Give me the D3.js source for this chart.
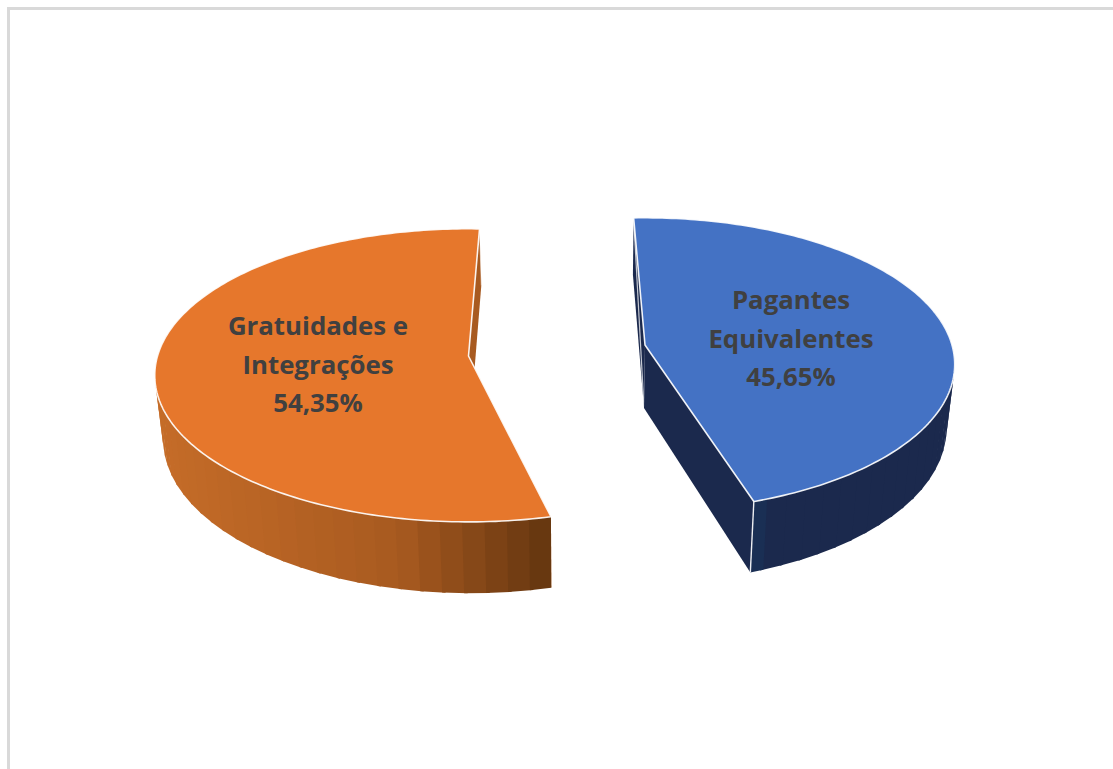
<!DOCTYPE html>
<html>
<head>
<meta charset="utf-8">
<script src="https://cdn.jsdelivr.net/npm/d3@7"></script>
<style>
  html, body { margin: 0; padding: 0; background: #fff; overflow: hidden; }
</style>
</head>
<body>
<div id="chart"></div>
<script>
const categories = ["Pagantes Equivalentes", "Gratuidades e Integrações"];
const shares = [45.65, 54.35];
const shareLabels = ["45,65%", "54,35%"];
const labelLines = [["Pagantes", "Equivalentes"], ["Gratuidades e", "Integrações"]];
const topColors = ["#4472c4", "#e6772c"];
const wallColors = [["#1a2f54", "#1b294d", "#1b294d"], ["#c56c28", "#a85a20", "#63350f"]];

const width = 1113, height = 769;

// per slice layout of the exploded pie: tip of the wedge, radius, rotation
const layout = [
  { tipX: 645, tipY: 345, rx: 307, turn: 0, baseShift: -1, baseScale: 0.977, labelX: 791, labelY: 309,
    wallDomain: [765, 772, 950] },
  { tipX: 468.5, tipY: 356, rx: 311, turn: 4.7, baseShift: 2, baseScale: 0.98, labelX: 318, labelY: 335,
    wallDomain: [165, 400, 551] },
];
const ry = 144;
const perspective = 0.132; // back of the disc shrinks, front grows
const depth = 63;
const baseGrow = 1.05;
const lineGap = 38.5;
const rad = (deg) => (deg * Math.PI) / 180;

const svg = d3
  .select("#chart")
  .append("svg")
  .attr("width", width)
  .attr("height", height)
  .style("display", "block");

svg
  .append("path")
  .attr("d", `M8.5,${height}V8.5H${width}`)
  .attr("fill", "none")
  .attr("stroke", "#d9d9d9")
  .attr("stroke-width", 3);

const pie = d3
  .pie()
  .sort(null)
  .startAngle(rad(-2.4))
  .endAngle(rad(-2.4) + 2 * Math.PI);
const arcs = pie(shares);

const line = d3.line();

// point on the top face, angle in radians clockwise from the back of the disc
function topPoint(s, a, r = 1) {
  const w = 1 + perspective * Math.cos(a);
  return [
    s.tipX + (r * s.rx * Math.sin(a)) / w,
    s.tipY - (r * ry * Math.cos(a)) / w,
  ];
}

// same point on the bottom face
function basePoint(s, a, r = 1) {
  const [x, y] = topPoint(s, a, r);
  return [
    s.tipX + s.baseShift + (x - s.tipX) * s.baseScale,
    s.tipY + depth + (y - s.tipY) * baseGrow,
  ];
}

arcs.forEach((d, i) => {
  const s = layout[i];
  const start = d.startAngle + rad(s.turn);
  const end = d.endAngle + rad(s.turn);
  const g = svg.append("g").attr("class", "slice").attr("data-name", categories[i]);
  const wallColor = d3
    .scaleLinear()
    .domain(s.wallDomain)
    .range(wallColors[i])
    .clamp(true);
  const tipTop = topPoint(s, 0, 0);
  const tipBase = basePoint(s, 0, 0);

  // cut wall at the start of the slice, mostly hidden
  g.append("path")
    .attr("d", line([topPoint(s, start), basePoint(s, start), tipBase, tipTop]) + "Z")
    .attr("fill", wallColors[i][i === 0 ? 1 : 0]);
  if (i === 0) {
    g.append("path")
      .attr("d", line([topPoint(s, start), tipBase]))
      .attr("fill", "none")
      .attr("stroke", "#fff")
      .attr("stroke-opacity", 0.75)
      .attr("stroke-width", 1.2);
  }

  // cut wall at the end of the slice
  g.append("path")
    .attr("d", line([tipTop, topPoint(s, end), basePoint(s, end), tipBase]) + "Z")
    .attr("fill", wallColors[i][1]);

  // outer wall in narrow strips, only the front of the disc shows.
  // each strip runs under the next one so no seams appear
  const step = rad(3.6);
  const strips = d3.range(start, end, step).filter((a) => Math.cos(a) < 0.25);
  if (i === 1) strips.reverse();
  strips.forEach((a0) => {
    const a1 = Math.min(a0 + step, end);
    const overlapA = i === 1 ? a1 : Math.min(a1 + 0.01, end);
    const overlapB = i === 1 ? Math.max(a0 - 0.01, start) : a0;
    const quad = [
      topPoint(s, overlapB),
      topPoint(s, overlapA),
      basePoint(s, overlapA),
      basePoint(s, overlapB),
    ];
    g.append("path")
      .attr("d", line(quad) + "Z")
      .attr("fill", wallColor(basePoint(s, (a0 + a1) / 2)[0]));
  });

  // corner edge where the front walls meet
  g.append("path")
    .attr("d", line([topPoint(s, end), basePoint(s, end)]))
    .attr("fill", "none")
    .attr("stroke", "#fff")
    .attr("stroke-opacity", i === 0 ? 0.9 : 0.5)
    .attr("stroke-width", i === 0 ? 1.4 : 1);

  // top face
  const rim = d3.range(start, end, rad(1)).map((a) => topPoint(s, a));
  rim.push(topPoint(s, end));
  g.append("path")
    .attr("d", line([tipTop, ...rim]) + "Z")
    .attr("fill", topColors[i])
    .attr("stroke", "#fff")
    .attr("stroke-opacity", 0.9)
    .attr("stroke-width", 1.6)
    .attr("stroke-linejoin", "round");

  // label
  const text = g
    .append("text")
    .attr("text-anchor", "middle")
    .attr("font-family", "'Open Sans', sans-serif")
    .attr("font-weight", 700)
    .attr("font-size", 25.8)
    .attr("fill", "#404040");
  [...labelLines[i], shareLabels[i]].forEach((t, j) => {
    text
      .append("tspan")
      .attr("x", s.labelX)
      .attr("y", s.labelY + j * lineGap)
      .text(t);
  });
});
</script>
</body>
</html>
